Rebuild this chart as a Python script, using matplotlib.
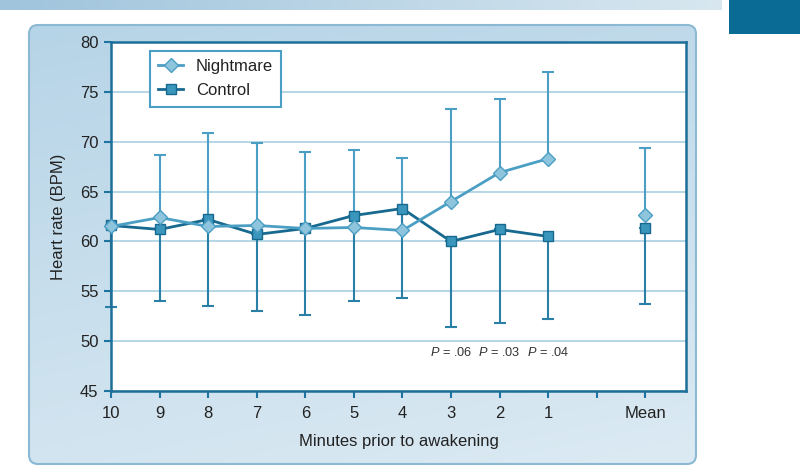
import numpy as np
import matplotlib
matplotlib.use("Agg")
import matplotlib.pyplot as plt
from matplotlib.patches import FancyBboxPatch, Rectangle

plt.rcParams['font.family'] = ['Liberation Sans', 'DejaVu Sans']
plt.rcParams['mathtext.fontset'] = 'custom'
plt.rcParams['mathtext.it'] = 'Liberation Sans:italic'
plt.rcParams['mathtext.rm'] = 'Liberation Sans'

# ---- data ----
categories = ['10', '9', '8', '7', '6', '5', '4', '3', '2', '1', '', 'Mean']
nan = np.nan
nightmare = [61.5, 62.4, 61.5, 61.6, 61.3, 61.4, 61.1, 64.0, 66.9, 68.3, nan, 62.7]
nightmare_upper = [nan, 68.7, 70.9, 69.9, 69.0, 69.2, 68.4, 73.3, 74.3, 77.0, nan, 69.4]
control = [61.6, 61.2, 62.2, 60.7, 61.3, 62.6, 63.3, 60.0, 61.2, 60.5, nan, 61.3]
control_lower = [53.4, 54.0, 53.5, 53.0, 52.6, 54.0, 54.3, 51.4, 51.8, 52.2, nan, 53.7]
p_labels = ['.06', '.03', '.04']
p_positions = ['3', '2', '1']
yticks = [45, 50, 55, 60, 65, 70, 75, 80]

W, H = 800, 467
fig = plt.figure(figsize=(8, 4.67), dpi=100)

# ---- background decoration (pixel coordinates) ----
bg = fig.add_axes([0, 0, 1, 1], zorder=0)
bg.set_xlim(0, W)
bg.set_ylim(H, 0)
bg.axis('off')

# top bar gradient
grad_h = np.linspace(0, 1, 256)[None, :]
c1 = np.array([0x9f, 0xc4, 0xdc]) / 255
c2 = np.array([0xd8, 0xe7, 0xf0]) / 255
img = c1[None, None, :] * (1 - grad_h[..., None]) + c2[None, None, :] * grad_h[..., None]
bg.imshow(img, extent=[0, 722, 10, 0], aspect='auto', zorder=1)

# dark box top right
bg.add_patch(Rectangle((729, 0), 71, 34, facecolor='#0a6b95', edgecolor='none', zorder=1))

# panel gradient
panel = FancyBboxPatch((29, 25), 667, 439, boxstyle='round,pad=0,rounding_size=9',
                       facecolor='none', edgecolor='#8bb9d4', linewidth=1.5, zorder=3)
bg.add_patch(panel)
gv = np.linspace(0, 1, 256)[:, None]
gx = np.linspace(0, 1, 256)[None, :]
t = np.clip(0.75 * gv + 0.25 * gx, 0, 1)
p1 = np.array([0xb6, 0xd4, 0xe7]) / 255
p2 = np.array([0xdc, 0xea, 0xf3]) / 255
pimg = p1[None, None, :] * (1 - t[..., None]) + p2[None, None, :] * t[..., None]
im = bg.imshow(pimg, extent=[29, 696, 464, 25], aspect='auto', zorder=2)
clip = FancyBboxPatch((29, 25), 667, 439, boxstyle='round,pad=0,rounding_size=9',
                      facecolor='none', edgecolor='none', transform=bg.transData)
im.set_clip_path(clip)

# ---- main axes ----
ax = fig.add_axes([111 / W, 1 - 391 / H, (686 - 111) / W, (391 - 42) / H], zorder=5)
ax.set_facecolor('white')

x = np.arange(len(categories))
light_line = '#4b9fc4'
light_fill = '#8fc4dd'
dark_line = '#17698f'
dark_fill = '#3a96bd'

nm = np.array(nightmare, dtype=float)
nu = np.array(nightmare_upper, dtype=float)
ct = np.array(control, dtype=float)
cl = np.array(control_lower, dtype=float)

for yv in yticks:
    ax.axhline(yv, color='#a9d0e2', linewidth=1.2, zorder=1)

mask_n = ~np.isnan(nu)
ax.errorbar(x[mask_n], nm[mask_n], yerr=[np.zeros(mask_n.sum()), (nu - nm)[mask_n]],
            fmt='none', ecolor=light_line, elinewidth=1.5, capsize=4, capthick=1.5,
            zorder=2, clip_on=False)
mask_c = ~np.isnan(cl)
ax.errorbar(x[mask_c], ct[mask_c], yerr=[(ct - cl)[mask_c], np.zeros(mask_c.sum())],
            fmt='none', ecolor='#2a7fa6', elinewidth=1.5, capsize=4, capthick=1.5,
            zorder=2, clip_on=False)

ax.plot(x, ct, color=dark_line, linewidth=2.0, marker='s', markersize=7,
        markerfacecolor=dark_fill, markeredgecolor=dark_line, markeredgewidth=1.0,
        label='Control', zorder=3, clip_on=False)
ax.plot(x, nm, color=light_line, linewidth=2.0, marker='D', markersize=7,
        markerfacecolor=light_fill, markeredgecolor=light_line, markeredgewidth=1.0,
        label='Nightmare', zorder=4, clip_on=False)

handles, labels = ax.get_legend_handles_labels()
leg = ax.legend(handles[::-1], labels[::-1], loc='upper left',
                bbox_to_anchor=(0.068, 0.975), frameon=True, fancybox=False,
                fontsize=12, handlelength=1.5, borderpad=0.5, labelspacing=0.55,
                handletextpad=0.75, borderaxespad=0)
leg.get_frame().set_edgecolor(light_line)
leg.get_frame().set_linewidth(1.5)
leg.get_frame().set_facecolor('white')
leg.get_frame().set_alpha(1)
for txt in leg.get_texts():
    txt.set_color('#222222')

ax.set_xlim(0, 11.84)
ax.set_ylim(45, 80)
ax.set_xticks(x)
ax.set_xticklabels(categories)
ax.set_yticks(yticks)
ax.tick_params(axis='both', direction='out', length=5, width=1.5, colors='#1d74a0',
               labelcolor='#222222', labelsize=12)
ax.tick_params(axis='x', pad=6)
ax.tick_params(axis='y', pad=4)
for s in ax.spines.values():
    s.set_color('#1d6f98')
    s.set_linewidth(1.8)

ax.set_xlabel('Minutes prior to awakening', fontsize=12, color='#222222', labelpad=9)
ax.set_ylabel('Heart rate (BPM)', fontsize=12, color='#222222', labelpad=10)

for lab, pos in zip(p_labels, p_positions):
    i = categories.index(pos)
    ax.text(x[i], 48.9, r'$P$' + ' = ' + lab, ha='center', va='center',
            fontsize=9.2, color='#333333', zorder=6)

fig.savefig('out.png', dpi=100)
